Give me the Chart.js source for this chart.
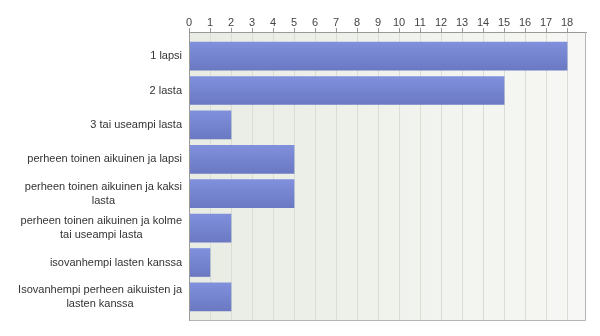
<!DOCTYPE html>
<html>
<head>
<meta charset="utf-8">
<script src="https://cdn.jsdelivr.net/npm/chart.js@4/dist/chart.umd.min.js"></script>
<style>
  html, body { margin: 0; padding: 0; background: #fff; }
  #wrap { width: 600px; height: 336px; }
</style>
</head>
<body>
<div id="wrap"><canvas id="bar"></canvas></div>
<script>
const categories = [
    ["1 lapsi"],
    ["2 lasta"],
    ["3 tai useampi lasta"],
    ["perheen toinen aikuinen ja lapsi"],
    ["perheen toinen aikuinen ja kaksi", "lasta"],
    ["perheen toinen aikuinen ja kolme", "tai useampi lasta"],
    ["isovanhempi lasten kanssa"],
    ["Isovanhempi perheen aikuisten ja", "lasten kanssa"],
];
const counts = [18, 15, 2, 5, 5, 2, 1, 2];
const xTicks = [0, 1, 2, 3, 4, 5, 6, 7, 8, 9, 10, 11, 12, 13, 14, 15, 16, 17, 18];

const FONT = "Liberation Sans, Arial, sans-serif";

// plot background + frame, category labels drawn with centred multi-line text
const frame = {
    id: "frame",
    beforeDraw(chart) {
        const { ctx, chartArea: a } = chart;
        const g = ctx.createLinearGradient(a.left, 0, a.right, 0);
        g.addColorStop(0, "#e8ece3");
        g.addColorStop(1, "#f7f8f5");
        ctx.save();
        ctx.fillStyle = g;
        ctx.fillRect(a.left, a.top, a.right - a.left, a.bottom - a.top);
        ctx.restore();
    },
    afterDraw(chart) {
        const { ctx, chartArea: a } = chart;
        const y = chart.scales.y;
        ctx.save();
        ctx.strokeStyle = "#b4b4b4";
        ctx.lineWidth = 1;
        ctx.beginPath();
        ctx.moveTo(a.right - 0.5, a.top);
        ctx.lineTo(a.right - 0.5, a.bottom - 0.5);
        ctx.lineTo(a.left, a.bottom - 0.5);
        ctx.stroke();
        ctx.strokeStyle = "#999";
        ctx.beginPath();
        ctx.moveTo(a.left + 0.5, a.top);
        ctx.lineTo(a.left + 0.5, a.bottom);
        ctx.stroke();

        ctx.font = "11px " + FONT;
        ctx.fillStyle = "#333";
        ctx.textBaseline = "middle";
        ctx.textAlign = "center";
        const lh = 14;
        categories.forEach((lines, i) => {
            const cy = y.getPixelForValue(i);
            const w = Math.max(...lines.map((l) => ctx.measureText(l).width));
            const cx = a.left - 7 - w / 2;
            const y0 = cy - ((lines.length - 1) * lh) / 2;
            lines.forEach((l, k) => ctx.fillText(l, cx, y0 + k * lh));
        });
        ctx.restore();
    },
};

const barCtx = document.getElementById("bar");
const barChart = new Chart(barCtx, {
    type: "bar",
    data: {
        datasets: [
            {
                label: "Vastaukset",
                data: counts.map((v, i) => ({ x: v, y: i })),
                backgroundColor: (c) => {
                    const chart = c.chart;
                    if (!chart.chartArea || !chart.scales.y) return "#7584d0";
                    const cy = chart.scales.y.getPixelForValue(c.dataIndex);
                    const g = chart.ctx.createLinearGradient(0, cy - 14, 0, cy + 14);
                    g.addColorStop(0, "#8090dc");
                    g.addColorStop(1, "#6b79c3");
                    return g;
                },
                borderWidth: 0,
                barThickness: 28,
            },
        ],
    },
    options: {
        indexAxis: "y",
        animation: false,
        responsive: true,
        maintainAspectRatio: false,
        layout: { padding: { left: 0, right: 14, top: 0, bottom: 15 } },
        scales: {
            x: {
                type: "linear",
                position: "top",
                min: 0,
                max: 18.9,
                afterBuildTicks: (s) => {
                    s.ticks = xTicks.map((v) => ({ value: v }));
                },
                afterFit: (s) => {
                    s.height = 32;
                },
                ticks: {
                    font: { family: FONT, size: 11 },
                    color: "#444",
                    padding: -2,
                },
                grid: {
                    color: "#d9ddd4",
                    tickColor: "#999",
                    tickLength: 4,
                },
                border: { display: true, color: "#999" },
            },
            y: {
                type: "linear",
                reverse: true,
                offset: false,
                min: -0.7,
                max: 7.7,
                afterBuildTicks: (s) => {
                    s.ticks = categories.map((_, i) => ({ value: i }));
                },
                afterFit: (s) => {
                    s.width = 189;
                },
                ticks: { display: false },
                grid: { display: false },
                border: { display: false },
            },
        },
        plugins: {
            legend: { display: false },
            tooltip: { enabled: false },
        },
    },
    plugins: [frame],
});
</script>
</body>
</html>
